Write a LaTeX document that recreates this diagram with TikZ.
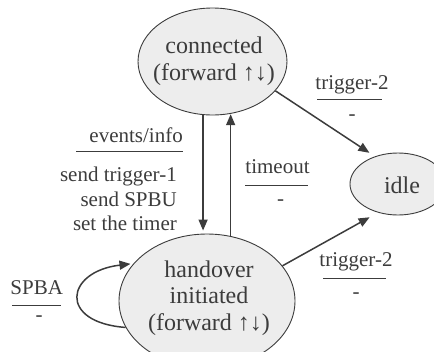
\documentclass[tikz,border=0pt]{standalone}
\usepackage{fontspec}
\setmainfont{Liberation Serif}
\usetikzlibrary{arrows.meta,shapes.geometric}
\definecolor{ink}{HTML}{3C3C3C}
\definecolor{statefill}{HTML}{EDEDED}
\begin{document}
\begin{tikzpicture}[x=1pt,y=-1pt,
  state/.style={ellipse,draw=ink,fill=statefill,line width=0.9pt,inner sep=0pt},
  stxt/.style={text=ink,font=\fontsize{24}{26.7}\selectfont,align=center,inner sep=0pt},
  lbl/.style={text=ink,font=\fontsize{21}{24}\selectfont,inner sep=0pt},
  arr/.style={draw=ink,line width=1.5pt,-{Triangle[length=11pt,width=9pt]}},
  rulel/.style={draw=ink,line width=0.9pt}]
\clip (0,0) rectangle (434,351);
% states
\node[state,minimum width=149pt,minimum height=107pt] (conn) at (212.5,61.5) {};
\node[state,minimum width=96pt,minimum height=62pt] (idle) at (398,184) {};
\node[state,minimum width=176pt,minimum height=134pt] (ho) at (207,301) {};
\node[stxt] (conntxt) at (214,61) {connected\\(forward ↑↓)};
\node[stxt] (idletxt) at (402,185) {idle};
\node[stxt] (hotxt) at (209,298) {handover\\initiated\\(forward ↑↓)};
% connectors
\draw[arr,shorten >=3pt] (conn.260) -- (conn.260 |- ho.north);
\draw[arr] (ho.70) -- (ho.70 |- conn.287);
\draw[arr,shorten >=6.5pt] (conn.335) -- (idle.130);
\draw[arr,shorten >=9.5pt] (ho.25) -- (idle.235);
\draw[arr,shorten >=3pt] (ho.198) .. controls +(-68,-5) and +(-68,8) .. (ho.153);
% labels
\node[lbl,anchor=base] (t2a) at (352,89) {trigger-2};
\draw[rulel] (317,99) -- (382,99);
\node[lbl,anchor=base] (t2aa) at (352,120) {-};
\node[lbl,anchor=base] (to) at (277.5,173) {timeout};
\draw[rulel] (245,185) -- (308,185);
\node[lbl,anchor=base] (toa) at (280.5,205) {-};
\node[lbl,anchor=base] (t2b) at (356,266.7) {trigger-2};
\draw[rulel] (323,278) -- (386,278);
\node[lbl,anchor=base] (t2ba) at (356,298) {-};
\node[lbl,anchor=base] (spba) at (36.7,294) {SPBA};
\draw[rulel] (12,305) -- (61,305);
\node[lbl,anchor=base] (spbaa) at (39,321.7) {-};
\node[lbl,anchor=base east] (ev) at (183,142) {events/info};
\draw[rulel] (76,151) -- (183,151);
\node[lbl,anchor=base east] (act1) at (177,181.7) {send trigger-1};
\node[lbl,anchor=base east] (act2) at (177,206.7) {send SPBU};
\node[lbl,anchor=base east] (act3) at (177,230) {set the timer};
\end{tikzpicture}
\end{document}
